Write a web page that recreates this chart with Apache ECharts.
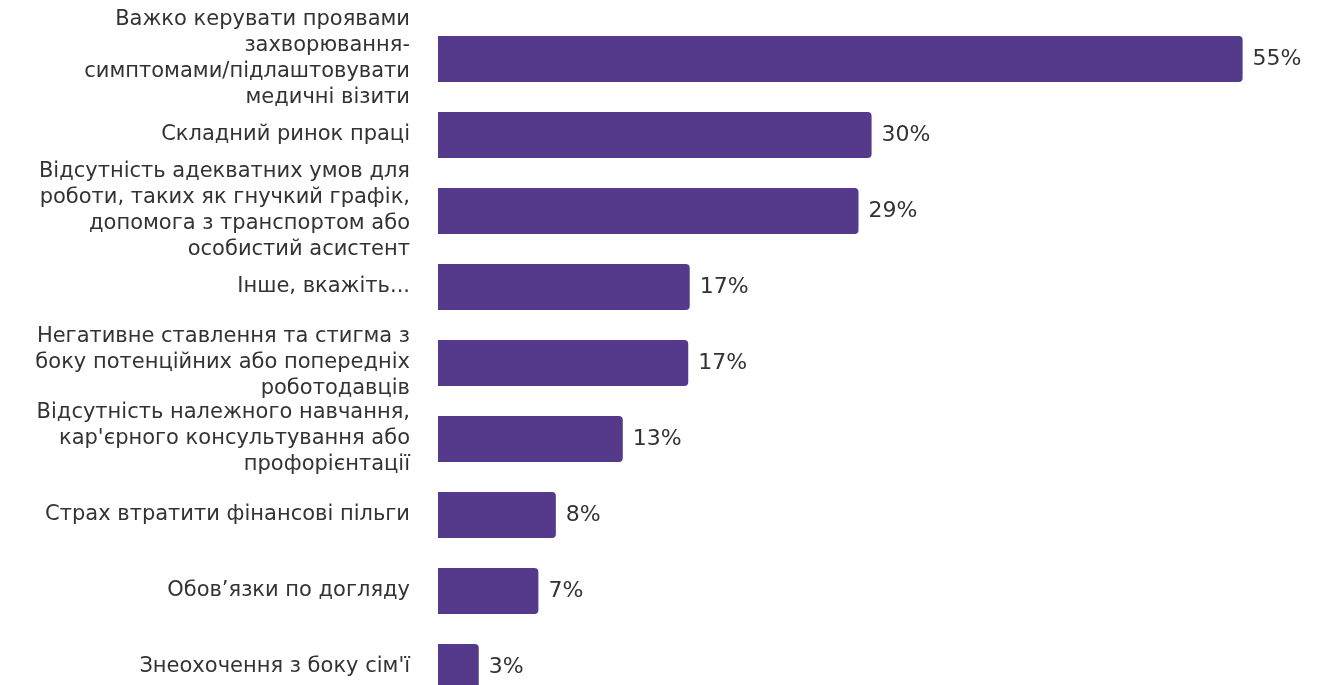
<!DOCTYPE html>
<html>
<head>
<meta charset="utf-8">
<script src="https://cdn.jsdelivr.net/npm/echarts@6/dist/echarts.min.js"></script>
<style>
html,body{margin:0;padding:0;background:#fff;overflow:hidden;}
#chart{width:1324px;height:725px;}
</style>
</head>
<body>
<div id="chart"></div>
<script>
const categories = [
  "Важко керувати проявами\nзахворювання-\nсимптомами/підлаштовувати\nмедичні візити",
  "Складний ринок праці",
  "Відсутність адекватних умов для\nроботи, таких як гнучкий графік,\nдопомога з транспортом або\nособистий асистент",
  "Інше, вкажіть...",
  "Негативне ставлення та стигма з\nбоку потенційних або попередніх\nроботодавців",
  "Відсутність належного навчання,\nкар'єрного консультування або\nпрофорієнтації",
  "Страх втратити фінансові пільги",
  "Обов’язки по догляду",
  "Знеохочення з боку сім'ї"
];
const values = [55.3, 29.8, 28.9, 17.3, 17.2, 12.7, 8.1, 6.9, 2.8];

const chart = echarts.init(document.getElementById('chart'));
chart.setOption({
  animation: false,
  grid: { left: 438, right: 13, top: 21, bottom: 20, containLabel: false },
  xAxis: { type: 'value', min: 0, max: 60, show: false },
  yAxis: {
    type: 'category',
    inverse: true,
    data: categories,
    axisLine: { show: false },
    axisTick: { show: false },
    axisLabel: {
      margin: 28,
      color: '#333333',
      fontFamily: 'Verdana, DejaVu Sans',
      fontSize: 21,
      lineHeight: 26,
      align: 'right'
    }
  },
  series: [{
    type: 'bar',
    data: values,
    barWidth: 46,
    itemStyle: { color: '#553a8b', borderRadius: [0, 4, 4, 0] },
    label: {
      show: true,
      position: 'right',
      distance: 10,
      color: '#333333',
      fontFamily: 'Verdana, DejaVu Sans',
      fontSize: 22,
      formatter: p => Math.round(p.value) + '%'
    }
  }]
});
</script>
</body>
</html>
